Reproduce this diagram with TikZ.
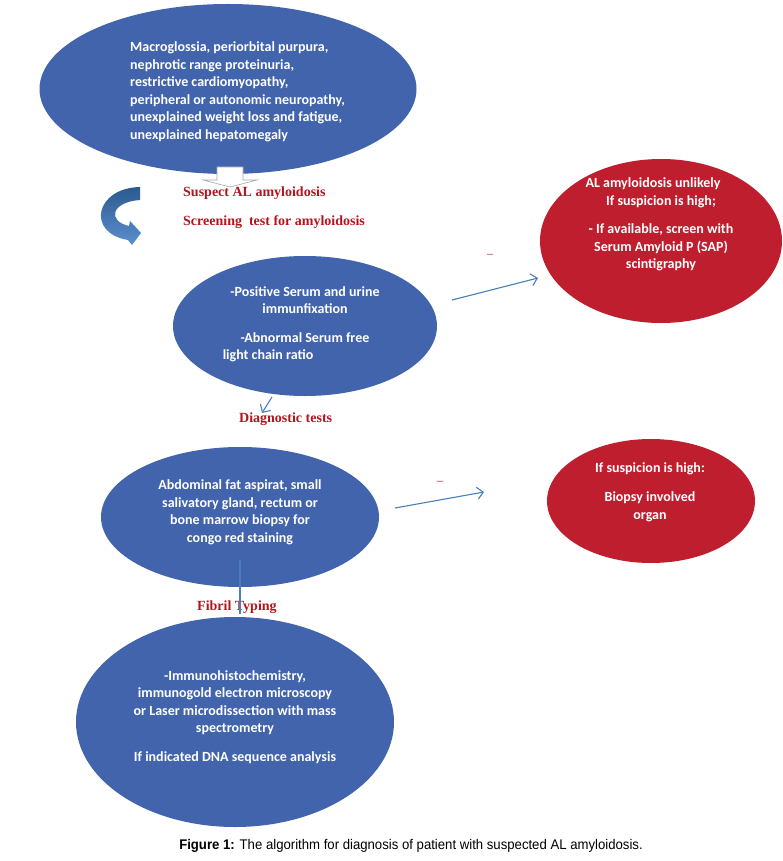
\documentclass[tikz,border=0pt]{standalone}
\usepackage{fontspec}
\setmainfont{Liberation Serif}
\newfontfamily\calfont{Carlito}
\newfontfamily\capfont{Liberation Sans}
\usetikzlibrary{shapes.geometric,arrows.meta}
\definecolor{eblue}{HTML}{4264AD}
\definecolor{ered}{HTML}{BE1E2D}
\definecolor{lred}{HTML}{B3151E}
\definecolor{lblue}{HTML}{4A7EBB}
\definecolor{cdark}{HTML}{2C5A8F}
\definecolor{clight}{HTML}{5A90CF}
\begin{document}
\begin{tikzpicture}[x=1pt,y=-1pt,
  ell/.style={ellipse,draw=none,inner sep=0pt,outer sep=0pt},
  etxt/.style={text=white,inner sep=0pt,font=\calfont\bfseries\fontsize{14}{17.5}\selectfont},
  lbl/.style={text=lred,inner sep=0pt,anchor=west,font=\bfseries\fontsize{14}{16}\selectfont},
  dashlbl/.style={text=lred,inner sep=0pt,font=\fontsize{12}{12}\selectfont},
  conn/.style={draw=lblue,line width=1.1pt,-{Straight Barb[length=6pt,width=12pt,line width=1.1pt]}},
  plainconn/.style={draw=lblue,line width=1.1pt}]
\path[use as bounding box,fill=white] (0,0) rectangle (782,861);

% ellipses
\node[ell,fill=eblue,minimum width=377pt,minimum height=170pt] (e1) at (228,89) {};
\node[ell,fill=ered,minimum width=242pt,minimum height=164pt] (e2) at (661,241) {};
\node[ell,fill=eblue,minimum width=264pt,minimum height=140pt] (e3) at (305,326) {};
\node[ell,fill=eblue,minimum width=278pt,minimum height=140pt] (e4) at (240,517) {};
\node[ell,fill=ered,minimum width=208pt,minimum height=124pt] (e5) at (651,501) {};
\node[ell,fill=eblue,minimum width=318pt,minimum height=210pt] (e6) at (235,722) {};

% texts
\node[etxt,align=left,anchor=west] (t1) at (130,92) {Macroglossia, periorbital purpura,\\nephrotic range proteinuria,\\restrictive cardiomyopathy,\\peripheral or autonomic neuropathy,\\unexplained weight loss and fatigue,\\unexplained hepatomegaly};
\node[etxt,align=center] (t2) at (661,224.5) {AL amyloidosis unlikely\hspace*{16pt}\\If suspicion is high;\\[11pt]- If available, screen with\\Serum Amyloid P (SAP)\\scintigraphy};
\node[etxt,align=center] (t3) at (305,324.5) {-Positive Serum and urine\\immunfixation\\[11pt]-Abnormal Serum free\hspace*{16pt}\\light chain ratio\hspace*{74pt}};
\node[etxt,align=center] (t4) at (240,512.5) {Abdominal fat aspirat, small\\salivatory gland, rectum or\\bone marrow biopsy for\\congo red staining};
\node[etxt,align=center] (t5) at (650,492) {If suspicion is high:\\[12pt]Biopsy involved\\organ};
\node[etxt,align=center] (t6) at (235,717) {-Immunohistochemistry,\\immunogold electron microscopy\\or Laser microdissection with mass\\spectrometry\\[11pt]If indicated DNA sequence analysis};

% white block arrow
\draw[draw=gray!70,fill=white,line width=0.6pt] (217,167) -- (243,167) -- (243,180) -- (257,180) -- (230,187) -- (203,180) -- (217,180) -- cycle;

% curved arrow
\shade[top color=cdark,bottom color=clight] (140,187) .. controls (95,188) and (86,233) .. (128,240) -- (132,245) -- (141,233) -- (130,221) -- (129,226) .. controls (107,221) and (111,202) .. (140,200) -- cycle;

% red labels
\node[lbl] (s1) at (183,193) {Suspect AL amyloidosis};
\node[lbl] (s2) at (183,222) {Screening\ \ test for amyloidosis};
\node[lbl] (s3) at (239,419) {Diagnostic tests};
\node[lbl] (s4) at (197,607) {Fibril Typing};
\node[dashlbl] (d1) at (490,256) {–};
\node[dashlbl] (d2) at (440,483) {–};

% connectors
\coordinate (a1s) at (452,300);
\coordinate (a1e) at (538,278);
\coordinate (a2s) at (395,508);
\coordinate (a2e) at (484,492);
\coordinate (a3s) at (272,397);
\coordinate (a3e) at (262,413);
\coordinate (l1s) at (240,560);
\coordinate (l1e) at (240,614);
\draw[conn] (a1s) -- (a1e);
\draw[conn] (a2s) -- (a2e);
\draw[conn] (a3s) -- (a3e);
\draw[plainconn] (l1s) -- (l1e);

% caption
\node[inner sep=0pt,font=\capfont\fontsize{14}{16}\selectfont] (cap) at (411,846) {\scalebox{0.94}[1]{\textbf{Figure 1:} The algorithm for diagnosis of patient with suspected AL amyloidosis.}};
\end{tikzpicture}
\end{document}
